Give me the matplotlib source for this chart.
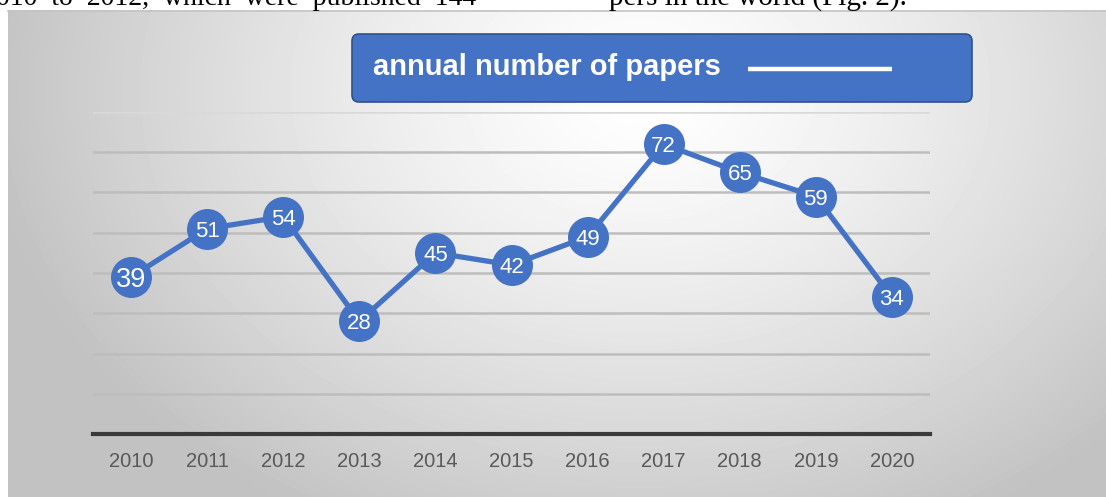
import numpy as np
import matplotlib
matplotlib.use("Agg")
import matplotlib.pyplot as plt
from matplotlib.patches import FancyBboxPatch

years = ['2010', '2011', '2012', '2013', '2014', '2015', '2016', '2017', '2018', '2019', '2020']
papers = [39, 51, 54, 28, 45, 42, 49, 72, 65, 59, 34]
series_name = 'annual number of papers'

W, H = 1106, 497
blue = '#4472C4'

plt.rcParams['font.family'] = ['Liberation Sans', 'DejaVu Sans']
fig = plt.figure(figsize=(W / 100, H / 100), dpi=100)
fig.patch.set_facecolor('white')

# overlay in pixel units for background / decorations
bg = fig.add_axes([0, 0, 1, 1], zorder=0)
bg.set_xlim(0, W)
bg.set_ylim(H, 0)
bg.axis('off')

# radial gray gradient of the chart area
yy, xx = np.mgrid[10:H, 8:W]
d = np.sqrt(((xx - 640) / 700.0) ** 2 + ((yy - 90) / 520.0) ** 2)
shade = np.clip(1.0 - 0.26 * d ** 1.3, 0.76, 1.0)
bg.imshow(shade, cmap='gray', vmin=0, vmax=1, extent=(8, W, H, 10),
          aspect='auto', interpolation='bilinear')
bg.plot([8, W], [10.5, 10.5], color='#c4c4c4', lw=1.2)

# cropped text line from the page above
fig.text(-0.004, 1 - 5 / H, '010  to  2012,  which  were  published  144', family='Liberation Serif',
         fontsize=20, va='baseline', color='black')
fig.text(609 / W, 1 - 5 / H, 'pers in the world (Fig. 2).', family='Liberation Serif',
         fontsize=21, va='baseline', color='black')

# legend box
box = FancyBboxPatch((352, 34), 620, 68, boxstyle='round,pad=0,rounding_size=7',
                     facecolor=blue, edgecolor='#2F528F', lw=1.2)
bg.add_patch(box)
bg.text(373, 67, series_name, color='white', fontsize=21, fontweight='bold',
        va='center', ha='left')
bg.plot([748, 892], [69, 69], color='white', lw=3.2, solid_capstyle='butt')

# main plot
ax = fig.add_axes([93 / W, (H - 434) / H, (930 - 93) / W, (434 - 112) / H], zorder=2)
ax.patch.set_alpha(0)
x = np.arange(len(years))
ax.set_xlim(-0.5, len(years) - 0.5)
ax.set_ylim(0, 80)
for v in range(10, 90, 10):
    ax.axhline(v, color='#bdbdbd' if v < 80 else '#d9d9d9', lw=1.8, zorder=1)
ax.axhline(0, color='#3a3a3a', lw=3, zorder=1, clip_on=False)

ax.plot(x, papers, color=blue, lw=3.8, marker='o', markersize=28.5,
        markerfacecolor=blue, markeredgecolor=blue, zorder=3, clip_on=False)
for i, v in enumerate(papers):
    fs = 19.5 if i == 0 else 16
    ax.text(i, v, str(v), color='white', ha='center', va='center_baseline',
            fontsize=fs, zorder=4)

ax.set_xticks(x)
ax.set_xticklabels(years, fontsize=14.5, color='#595959',
                   family=['Liberation Sans Narrow', 'Liberation Sans'])
ax.tick_params(axis='x', length=0, pad=13)
ax.set_yticks([])
for s in ax.spines.values():
    s.set_visible(False)

fig.savefig('out.png', dpi=100)
